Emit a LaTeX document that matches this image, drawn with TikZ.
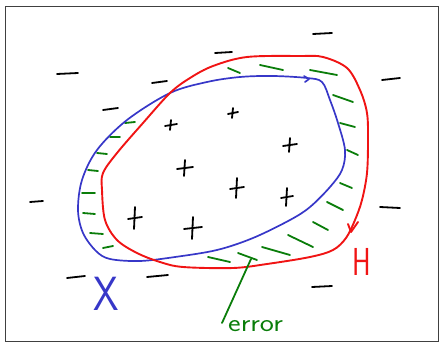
\documentclass[tikz,border=0pt]{standalone}
\tikzset{
  redline/.style={draw=myred, line width=1.9pt, line join=round},
  blueline/.style={draw=myblue, line width=1.7pt, line join=round},
  gdash/.style={draw=mygreen, line width=1.8pt, line cap=round},
  blk/.style={draw=black, line width=1.8pt, line cap=round},
  lbl/.style={inner sep=0pt, font=\sffamily}
}
\definecolor{myred}{RGB}{240,20,20}
\definecolor{myblue}{RGB}{55,55,200}
\definecolor{mygreen}{RGB}{10,125,10}
\begin{document}
\begin{tikzpicture}[x=1pt,y=-1pt]
\useasboundingbox (0,0) rectangle (439,342);
\draw[draw=black!75, line width=0.9pt] (5.5,6.5) rectangle (438,341);
% green error dashes
\foreach \xa/\ya/\xb/\yb in {
  228/68/240/73, 260/65/283/70, 310/70/337/75, 333/95/353/102,
  340/123/355/127, 347/150/358/155, 340/183/352/188, 327/202/343/210,
  313/222/328/230, 288/235/313/247, 262/247/290/255, 238/253/257/260,
  208/257/230/262,
  125/123/135/122, 110/137/120/137, 97/153/107/154, 88/170/98/171,
  82/193/95/193, 83/213/95/214, 90/233/103/234, 103/248/113/246}
  \draw[gdash] (\xa,\ya) -- (\xb,\yb);
% blue region X
\draw[blueline] plot[smooth cycle, tension=0.55] coordinates {
  (307,78) (322,82) (330,100) (338,123) (345,150) (342,170) (330,187)
  (310,207) (290,220) (253,238) (217,250) (175,257) (140,261) (110,259)
  (96,251) (83,233) (78,210) (82,180) (97,150) (127,120) (170,93)
  (207,82) (240,77) (273,76)};
\draw[blueline, line cap=round] (304,76) -- (309,79) -- (305,82);
% red region H
\draw[redline] plot[smooth cycle, tension=0.55] coordinates {
  (183,267) (233,268) (267,264) (310,257) (333,250) (346,238) (355,220)
  (362,200) (367,173) (368,140) (367,113) (360,90) (347,68) (323,57)
  (300,56) (247,57) (213,66) (190,78) (170,93) (143,123) (117,153)
  (103,173) (102,190) (105,220) (117,240) (137,253) (160,262)};
\draw[redline, line cap=round] (348,224) -- (351,232) -- (358,222);
% minus signs
\foreach \xa/\ya/\xb/\yb in {
  313/34/332/33, 215/53/232/52, 57/74/78/73, 152/83/167/81,
  382/80/400/78, 103/110/118/108, 30/202/43/201, 380/207/400/208,
  67/278/85/276, 147/277/168/275, 312/287/332/286}
  \draw[blk] (\xa,\ya) -- (\xb,\yb);
% plus signs
\foreach \cx/\cy/\h/\v in {
  233/113/5/5, 171/125/6/5, 290/145/7/7, 185/168/8/8,
  237/188/7/10, 287/197/6/9, 135/218/7/11, 193/228/9/11}
  { \draw[blk] (\cx-\h,\cy+1) -- (\cx+\h,\cy-1);
    \draw[blk] (\cx,\cy-\v) -- (\cx-1,\cy+\v); }
% labels
\node[lbl, text=myred, font=\sffamily\fontsize{39}{39}\selectfont, xscale=0.72] (hlab) at (362,262) {H};
\node[lbl, text=myblue, font=\sffamily\fontsize{48}{48}\selectfont, xscale=0.85] (xlab) at (106,294) {X};
\node[lbl, text=mygreen, font=\sffamily\fontsize{25}{25}\selectfont, xscale=1.2, anchor=base west] (err) at (228,331) {error};
\coordinate (errtop) at (251,259);
\coordinate (errbot) at (222,323);
\draw[gdash] (errtop) -- (errbot);
\end{tikzpicture}
\end{document}
